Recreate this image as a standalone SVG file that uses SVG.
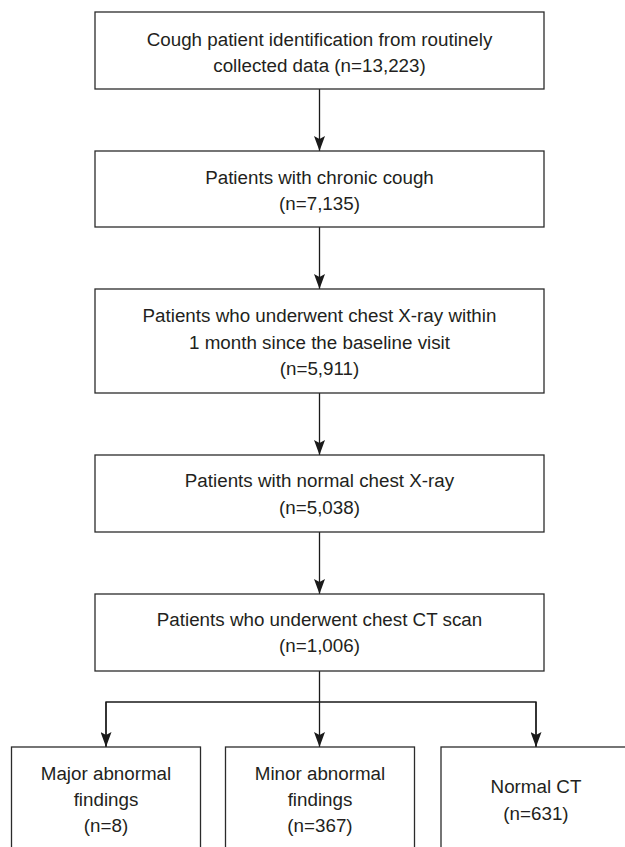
<svg xmlns="http://www.w3.org/2000/svg" width="625" height="847" viewBox="0 0 625 847">
  <style>
    .box { fill: #ffffff; stroke: #2b2b2b; stroke-width: 1.3; }
    .lbl { font-family: "Liberation Sans", Arial, Helvetica, sans-serif; font-size: 18.8px; fill: #231f20; text-anchor: middle; }
    .con { fill: none; stroke: #1a1a1a; stroke-width: 1.3; }
  </style>
  <defs>
    <marker id="ah" viewBox="0 0 15 11" refX="15" refY="5.5" markerWidth="15" markerHeight="11" markerUnits="userSpaceOnUse" orient="auto">
      <path d="M0,0 L15,5.5 L0,11 L3,5.5 Z" fill="#1a1a1a"/>
    </marker>
  </defs>
  <rect width="625" height="847" fill="#ffffff"/>

  <g id="connectors">
    <line class="con" x1="319.5" y1="89" x2="319.5" y2="151" marker-end="url(#ah)"/>
    <line class="con" x1="319.5" y1="227" x2="319.5" y2="289" marker-end="url(#ah)"/>
    <line class="con" x1="319.5" y1="393" x2="319.5" y2="455" marker-end="url(#ah)"/>
    <line class="con" x1="319.5" y1="532" x2="319.5" y2="594" marker-end="url(#ah)"/>
    <line class="con" x1="319.5" y1="671" x2="319.5" y2="747" marker-end="url(#ah)"/>
    <polyline class="con" points="106,747 106,702 536,702 536,747"/>
    <line class="con" x1="106" y1="702" x2="106" y2="747" marker-end="url(#ah)"/>
    <line class="con" x1="536" y1="702" x2="536" y2="747" marker-end="url(#ah)"/>
  </g>

  <g id="n1">
    <rect class="box" x="95" y="12" width="449" height="77"/>
    <text class="lbl" x="319.5" y="45.5">Cough patient identification from routinely</text>
    <text class="lbl" x="319.5" y="72">collected data (n=13,223)</text>
  </g>
  <g id="n2">
    <rect class="box" x="95" y="151" width="449" height="76"/>
    <text class="lbl" x="319.5" y="183.5">Patients with chronic cough</text>
    <text class="lbl" x="319.5" y="210">(n=7,135)</text>
  </g>
  <g id="n3">
    <rect class="box" x="95" y="289" width="449" height="104"/>
    <text class="lbl" x="319.5" y="322">Patients who underwent chest X-ray within</text>
    <text class="lbl" x="319.5" y="348.5">1 month since the baseline visit</text>
    <text class="lbl" x="319.5" y="375">(n=5,911)</text>
  </g>
  <g id="n4">
    <rect class="box" x="95" y="455" width="449" height="77"/>
    <text class="lbl" x="319.5" y="487">Patients with normal chest X-ray</text>
    <text class="lbl" x="319.5" y="513.5">(n=5,038)</text>
  </g>
  <g id="n5">
    <rect class="box" x="95" y="594" width="449" height="77"/>
    <text class="lbl" x="319.5" y="626">Patients who underwent chest CT scan</text>
    <text class="lbl" x="319.5" y="652">(n=1,006)</text>
  </g>
  <g id="n6">
    <rect class="box" x="11.5" y="747" width="189" height="120"/>
    <text class="lbl" x="106" y="780">Major abnormal</text>
    <text class="lbl" x="106" y="806">findings</text>
    <text class="lbl" x="106" y="832">(n=8)</text>
  </g>
  <g id="n7">
    <rect class="box" x="225.5" y="747" width="189" height="120"/>
    <text class="lbl" x="320" y="780">Minor abnormal</text>
    <text class="lbl" x="320" y="806">findings</text>
    <text class="lbl" x="320" y="832">(n=367)</text>
  </g>
  <g id="n8">
    <rect class="box" x="441" y="747" width="190" height="120"/>
    <text class="lbl" x="536" y="793">Normal CT</text>
    <text class="lbl" x="536" y="820">(n=631)</text>
  </g>
</svg>
